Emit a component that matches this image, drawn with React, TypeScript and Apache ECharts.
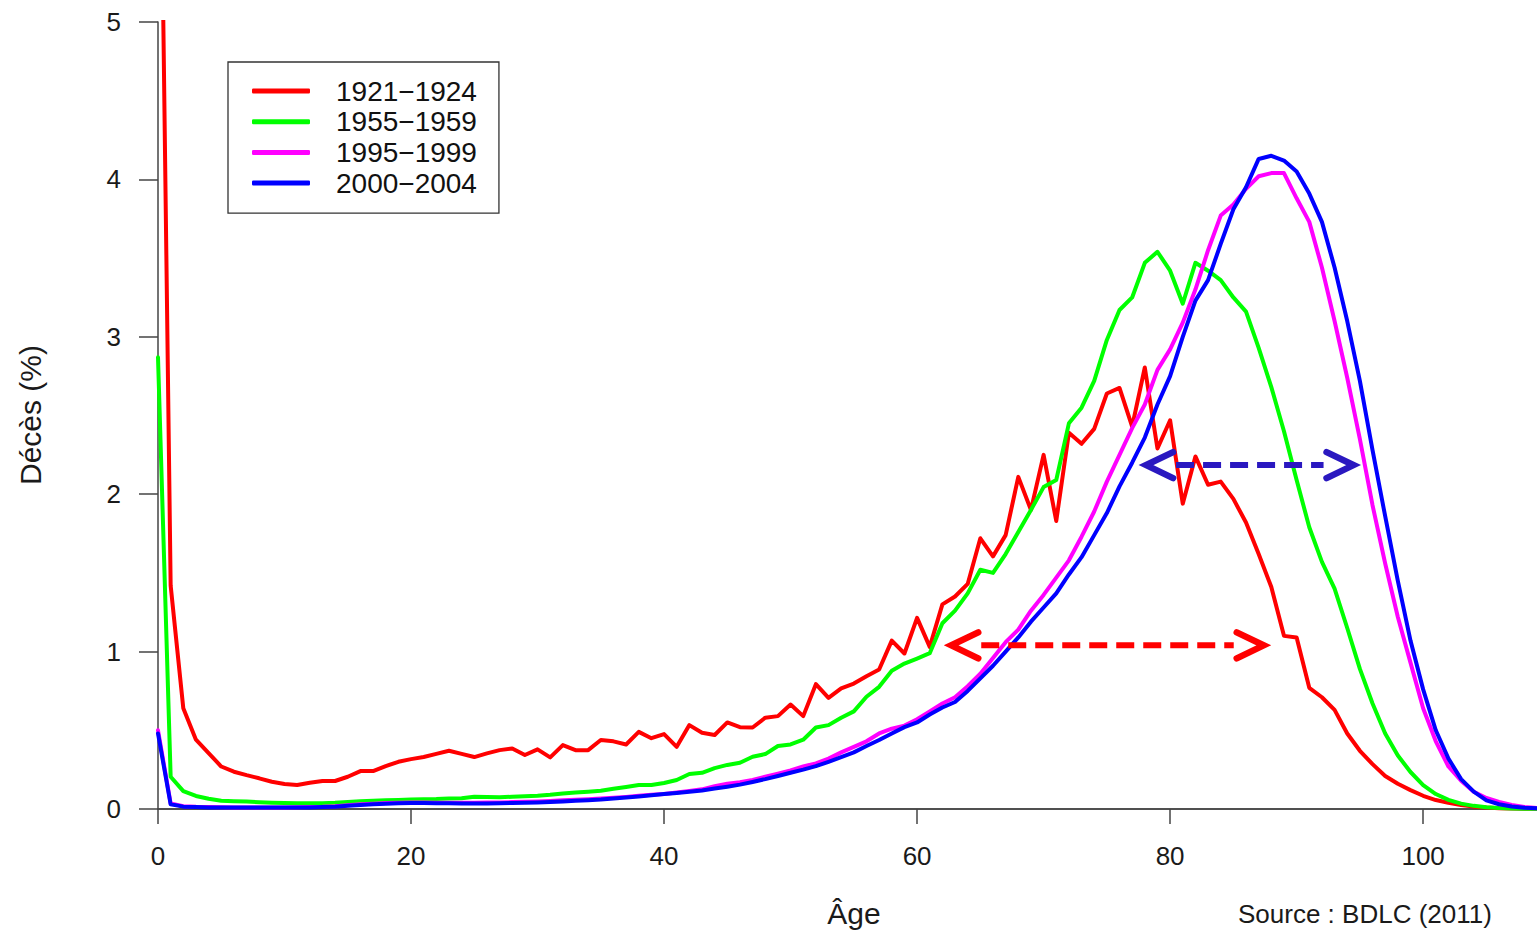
import React, { useEffect, useRef } from "react";
import * as echarts from "echarts";

// Ages (x values)
const AGES: number[] = Array.from({ length: 110 }, (_, i) => i);

const X_TICKS = [0, 20, 40, 60, 80, 100];
const Y_TICKS = [0, 1, 2, 3, 4, 5];

const LABELS = ["1921−1924", "1955−1959", "1995−1999", "2000−2004"];
const COLORS = ["#FF0000", "#00FF00", "#FF00FF", "#0000FF"];

// Décès (%) by age
const deaths1921: number[] = [
  7.6, 1.42, 0.64, 0.44, 0.355, 0.27, 0.237, 0.215, 0.195, 0.173,
  0.159, 0.152, 0.167, 0.178, 0.178, 0.205, 0.241, 0.241, 0.273, 0.3,
  0.317, 0.33, 0.35, 0.37, 0.35, 0.33, 0.353, 0.374, 0.385, 0.343,
  0.379, 0.328, 0.406, 0.374, 0.374, 0.438, 0.43, 0.41, 0.49, 0.45,
  0.476, 0.395, 0.533, 0.484, 0.47, 0.55, 0.52, 0.518, 0.58, 0.59,
  0.664, 0.59, 0.793, 0.706, 0.766, 0.797, 0.844, 0.886, 1.07, 0.988,
  1.214, 1.03, 1.3, 1.35, 1.43, 1.72, 1.605, 1.74, 2.11, 1.9,
  2.25, 1.83, 2.39, 2.32, 2.415, 2.64, 2.675, 2.43, 2.805, 2.29,
  2.47, 1.94, 2.24, 2.06, 2.08, 1.97, 1.82, 1.62, 1.41, 1.1,
  1.09, 0.77, 0.71, 0.63, 0.48, 0.37, 0.285, 0.21, 0.16, 0.12,
  0.084, 0.057, 0.04, 0.025, 0.015, 0.009, 0.005, 0.003, 0.002, 0.001,
];

const deaths1955: number[] = [
  2.87, 0.205, 0.114, 0.083, 0.065, 0.053, 0.05, 0.047, 0.043, 0.04,
  0.038, 0.036, 0.036, 0.037, 0.04, 0.045, 0.05, 0.052, 0.055, 0.057,
  0.06, 0.062, 0.063, 0.066, 0.068, 0.078, 0.076, 0.074, 0.078, 0.081,
  0.084, 0.09, 0.099, 0.105, 0.11, 0.116, 0.128, 0.14, 0.152, 0.152,
  0.165, 0.184, 0.222, 0.23, 0.26, 0.28, 0.294, 0.332, 0.349, 0.4,
  0.41, 0.44, 0.518, 0.533, 0.58, 0.62, 0.713, 0.776, 0.878, 0.924,
  0.956, 0.99, 1.18, 1.26, 1.37, 1.52, 1.5, 1.62, 1.76, 1.9,
  2.045, 2.09, 2.45, 2.55, 2.72, 2.98, 3.17, 3.25, 3.47, 3.54,
  3.42, 3.21, 3.47, 3.42, 3.36, 3.25, 3.16, 2.93, 2.68, 2.4,
  2.09, 1.79, 1.57, 1.4, 1.15, 0.89, 0.67, 0.48, 0.34, 0.235,
  0.152, 0.095, 0.058, 0.034, 0.02, 0.011, 0.006, 0.003, 0.0015, 0.001,
];

const deaths1995: number[] = [
  0.5, 0.035, 0.018, 0.014, 0.012, 0.011, 0.01, 0.01, 0.01, 0.01,
  0.01, 0.011, 0.012, 0.014, 0.018, 0.024, 0.03, 0.034, 0.038, 0.04,
  0.041, 0.041, 0.04, 0.04, 0.04, 0.04, 0.041, 0.042, 0.044, 0.046,
  0.048, 0.051, 0.055, 0.058, 0.062, 0.066, 0.071, 0.077, 0.084, 0.09,
  0.095, 0.105, 0.115, 0.125, 0.145, 0.16, 0.17, 0.185, 0.205, 0.225,
  0.245, 0.27, 0.29, 0.32, 0.36, 0.395, 0.43, 0.48, 0.51, 0.53,
  0.57, 0.62, 0.67, 0.71, 0.78, 0.86, 0.96, 1.06, 1.14, 1.26,
  1.36, 1.47, 1.58, 1.73, 1.89, 2.08, 2.25, 2.42, 2.57, 2.79,
  2.92, 3.09, 3.3, 3.55, 3.77, 3.84, 3.94, 4.02, 4.04, 4.04,
  3.88, 3.73, 3.44, 3.1, 2.74, 2.35, 1.93, 1.56, 1.22, 0.93,
  0.64, 0.43, 0.27, 0.18, 0.11, 0.07, 0.045, 0.025, 0.013, 0.007,
];

const deaths2000: number[] = [
  0.48, 0.03, 0.015, 0.012, 0.01, 0.01, 0.01, 0.01, 0.01, 0.01,
  0.01, 0.01, 0.01, 0.012, 0.015, 0.02, 0.026, 0.03, 0.034, 0.036,
  0.038, 0.038, 0.037, 0.036, 0.035, 0.035, 0.035, 0.036, 0.038, 0.04,
  0.042, 0.045, 0.048, 0.052, 0.056, 0.06, 0.066, 0.073, 0.08, 0.088,
  0.095, 0.102, 0.11, 0.118, 0.13, 0.142, 0.155, 0.172, 0.19, 0.21,
  0.23, 0.25, 0.272, 0.3, 0.33, 0.36, 0.4, 0.438, 0.48, 0.52,
  0.55, 0.6, 0.645, 0.68, 0.75, 0.83, 0.91, 1.0, 1.09, 1.19,
  1.28, 1.37, 1.49, 1.6, 1.74, 1.88, 2.05, 2.2, 2.36, 2.57,
  2.75, 3.0, 3.23, 3.36, 3.59, 3.81, 3.95, 4.13, 4.15, 4.12,
  4.05, 3.91, 3.73, 3.44, 3.1, 2.72, 2.28, 1.86, 1.45, 1.07,
  0.76, 0.5, 0.32, 0.19, 0.11, 0.055, 0.03, 0.016, 0.008, 0.004,
];

const SERIES_VALUES = [deaths1921, deaths1955, deaths1995, deaths2000];

// Annotation arrows (data coordinates: [age, %])
const ARROWS = [
  { from: [62.7, 1.04], to: [87.4, 1.04], color: "#FF0000" },
  { from: [78.1, 2.185], to: [94.5, 2.185], color: "#2A18C0" },
];

const FONT = "'Liberation Sans', Arial, Helvetica, sans-serif";
const AXIS_COLOR = "#444";
const TEXT_COLOR = "#1a1a1a";

export default function App() {
  const ref = useRef<HTMLDivElement>(null);

  useEffect(() => {
    if (!ref.current) return;
    const chart = echarts.init(ref.current, undefined, { renderer: "svg" });

    const series = SERIES_VALUES.map((vals, k) => ({
      name: LABELS[k],
      type: "line",
      data: AGES.map((a, i) => [a, vals[i]]),
      symbol: "none",
      clip: true,
      z: 2 + k,
      lineStyle: { color: COLORS[k], width: 4, join: "round", cap: "round" },
      itemStyle: { color: COLORS[k] },
    }));

    const option: any = {
      animation: false,
      backgroundColor: "#ffffff",
      grid: { left: 158, top: 22, width: 1380, height: 787, containLabel: false },
      legend: {
        orient: "vertical",
        left: 228,
        top: 62,
        padding: [14, 22, 15, 24],
        itemWidth: 58,
        itemHeight: 5,
        itemGap: 0.7,
        icon: "roundRect",
        borderColor: "#333",
        borderWidth: 1.3,
        borderRadius: 0,
        backgroundColor: "#fff",
        textStyle: {
          fontFamily: FONT,
          fontSize: 28,
          lineHeight: 30,
          color: "#111",
          padding: [0, 0, 0, 21],
        },
        data: LABELS,
      },
      xAxis: [
        {
          type: "value",
          min: 0,
          max: 109,
          interval: 20,
          position: "bottom",
          axisLine: { show: true, onZero: false, lineStyle: { color: AXIS_COLOR, width: 1.5 } },
          axisTick: { show: true, length: 15, lineStyle: { color: AXIS_COLOR, width: 1.5 }, customValues: X_TICKS },
          axisLabel: {
            margin: 34,
            fontSize: 26,
            fontFamily: FONT,
            color: TEXT_COLOR,
            customValues: X_TICKS,
          },
          splitLine: { show: false },
        },
        {
          type: "value",
          min: 0,
          max: 109,
          position: "top",
          axisLine: { show: true, lineStyle: { color: AXIS_COLOR, width: 1.5 } },
          axisTick: { show: false },
          axisLabel: { show: false },
          splitLine: { show: false },
        },
      ],
      yAxis: {
        type: "value",
        min: 0,
        max: 5,
        interval: 1,
        axisLine: { show: true, onZero: false, lineStyle: { color: AXIS_COLOR, width: 1.5 } },
        axisTick: { show: true, length: 19, lineStyle: { color: AXIS_COLOR, width: 1.5 } },
        axisLabel: { margin: 37, fontSize: 26, fontFamily: FONT, color: TEXT_COLOR, customValues: Y_TICKS },
        splitLine: { show: false },
      },
      series,
    };

    chart.setOption(option);

    const head = 27;
    const half = 13;
    const graphics: any[] = [];
    ARROWS.forEach((a) => {
      const p1 = chart.convertToPixel({ xAxisIndex: 0, yAxisIndex: 0 }, a.from) as number[];
      const p2 = chart.convertToPixel({ xAxisIndex: 0, yAxisIndex: 0 }, a.to) as number[];
      const y = p1[1];
      graphics.push({
        type: "line",
        z: 100,
        shape: { x1: p1[0] + head + 3, y1: y, x2: p2[0] - head - 3, y2: y },
        style: { stroke: a.color, lineWidth: 6, lineDash: [18, 9] },
      });
      graphics.push({
        type: "polyline",
        z: 100,
        shape: { points: [[p1[0] + head, y - half], [p1[0], y], [p1[0] + head, y + half]] },
        style: { stroke: a.color, lineWidth: 6.5, lineCap: "round", lineJoin: "miter", fill: null },
      });
      graphics.push({
        type: "polyline",
        z: 100,
        shape: { points: [[p2[0] - head, y - half], [p2[0], y], [p2[0] - head, y + half]] },
        style: { stroke: a.color, lineWidth: 6.5, lineCap: "round", lineJoin: "miter", fill: null },
      });
    });

    graphics.push({
      type: "text",
      x: 854,
      y: 913,
      style: { text: "Âge", font: `30px ${FONT}`, fill: TEXT_COLOR, align: "center", verticalAlign: "middle" },
    });
    graphics.push({
      type: "text",
      x: 30,
      y: 415,
      rotation: Math.PI / 2,
      style: { text: "Décès (%)", font: `30px ${FONT}`, fill: TEXT_COLOR, align: "center", verticalAlign: "middle" },
    });
    graphics.push({
      type: "text",
      x: 1238,
      y: 901,
      style: { text: "Source : BDLC (2011)", font: `26px ${FONT}`, fill: TEXT_COLOR, align: "left", verticalAlign: "top" },
    });

    chart.setOption({ graphic: graphics });

    return () => {
      chart.dispose();
    };
  }, []);

  return (
    <div
      ref={ref}
      style={{ position: "fixed", left: 0, top: 0, width: 1537, height: 930, background: "#fff" }}
    />
  );
}
